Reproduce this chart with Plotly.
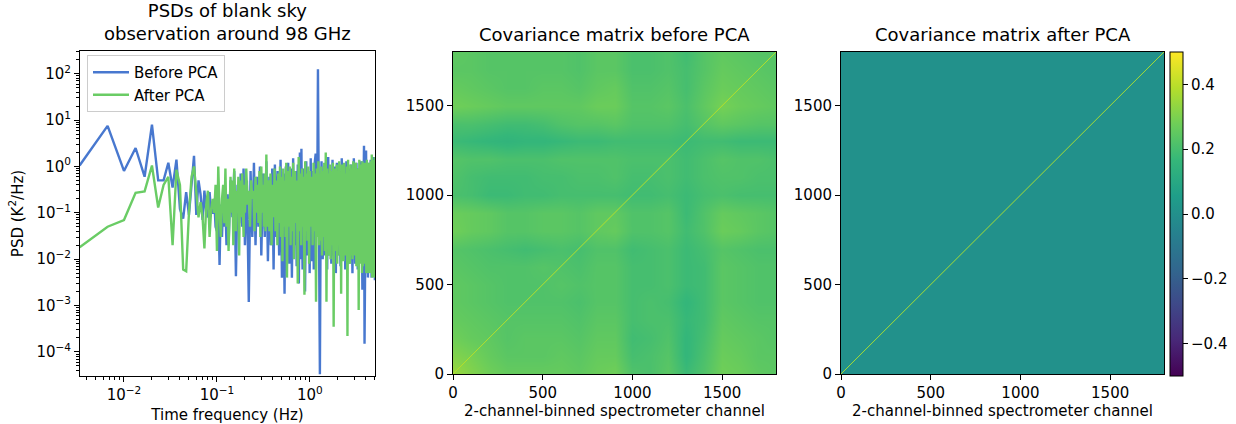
import plotly.graph_objects as go

W, H = 1236, 424

# ---- PSD data (FFT bin; 1 bin = 1/300 Hz) ----
blue_bins = [1,2,3,4,5,6,7,8,9,10,11,12,13,14,15,16,17,18,19,20,
 21,22,23,24,25,26,27,28,29,30,31,32,33,34,35,36,37,38,39,40,
 42,44,46,48,50,52,54,56,58,60,63,66,69,72,75,78,81,84,87,90,
 94,98,102,106,110,114,118,122,126,130,135,140,145,150,155,160,165,170,175,180,
 186,192,198,204,210,216,222,228,234,240,243,250,258,266,274,282,290,298,306,314,
 322,330,338,346,354,360,366,372,378,384,390,400,412,424,436,448,460,472,484,496,
 510,525,540,555,570,585,600,620,640,660,680,700,720,740,760,780,800,830,860,890,
 920,950,980,1010,1040,1070,1100,1130,1145,1160,1200,1205,1230,1260,1262,1290,1320,1350,1380,1410,1440,1470,1500]
blue_psd = [1.05,7.5,0.8,2.5,0.6,8,0.5,0.5,1.2,0.35,1.4,0.12,0.075,0.28,0.09,0.5,1.7,0.09,0.5,0.25,
 0.07,0.3,0.1,0.08,0.28,0.1,0.1,0.2,0.05,0.04,0.15,0.0075,0.15,0.03,0.2,0.05,0.15,0.02,0.25,0.02,
 0.5,0.08,0.8,0.0043,0.4,0.06,0.7,0.05,0.9,0.02,0.5,0.0012,0.8,0.03,1.2,0.02,0.6,0.05,1.0,0.012,
 0.7,0.03,1.3,0.009,0.6,0.02,0.9,0.006,1.1,0.03,0.8,0.012,1.4,0.004,0.7,0.0018,1.0,0.02,1.2,0.008,
 0.9,0.004,1.5,0.02,0.8,0.007,1.1,0.003,2.0,0.01,2.4,0.006,0.9,0.002,1.3,0.012,0.7,0.005,1.5,0.009,
 0.8,0.006,1.2,1.9,0.9,0.3,125,0.6,0.004,3.3e-5,0.02,1.3,0.01,0.8,0.012,1.1,0.006,1.6,0.012,0.7,
 0.008,1.4,0.012,1.0,0.005,1.2,0.012,0.8,0.007,1.5,0.01,1.0,0.006,1.3,0.009,0.9,0.008,1.1,0.005,1.5,
 0.008,1.2,0.006,0.9,0.009,1.3,0.0022,1.0,2.8,1.5e-4,1.0,2.2,0.005,1.2,0.004,0.9,0.006,1.4,0.004,1.1,0.005,1.6,0.0035]

green_bins = [1,2,3,4,5,6,7,8,9,10,11,12,13,14,15,16,17,18,19,20,
 21,22,23,24,25,26,27,28,29,30,31,32,33,34,35,36,37,38,39,40,
 41,42,43,44,45,46,47,48,49,50,51,52,53,54,55,56,57,58,59,60,
 62,64,66,68,70,72,74,76,78,80,82,84,86,88,90,92,94,96,98,100,
 102,104,107,110,113,116,119,122,125,128,131,134,137,140,143,146,149,152,155,158,
 161,164,167,170,174,178,182,186,190,194,198,202,207,212,217,222,227,232,237,242,
 247,252,257,262,267,272,277,282,288,294,300,307,314,321,328,335,342,349,356,363,
 370,377,384,391,398,405,412,420,428,436,444,452,460,468,476,484,492,500,510,520,
 530,540,550,558,566,574,582,590,600,610,620,630,640,650,660,670,680,690,700,712,
 724,736,748,760,772,784,796,808,822,836,850,864,878,892,906,920,934,948,962,976,
 990,1004,1020,1036,1052,1068,1084,1090,1100,1116,1132,1148,1164,1180,1196,1212,1228,1244,1260,1276,
 1292,1308,1324,1340,1356,1372,1388,1404,1420,1436,1452,1468,1484,1500]
green_psd = [0.018,0.05,0.07,0.27,0.29,1.05,0.13,0.4,0.6,0.02,0.85,0.4,0.006,0.0055,0.1,0.6,1.0,0.3,0.08,0.17,
 0.08,0.017,0.15,0.3,0.03,0.12,0.2,0.1,0.4,0.015,1.0,0.1,0.03,0.2,0.4,0.06,0.9,0.05,0.2,0.015,
 0.3,0.6,0.1,0.5,0.02,0.9,0.2,0.04,0.3,0.1,0.6,0.012,0.3,0.5,0.08,0.7,0.15,0.03,0.4,0.1,
 0.9,0.15,0.3,0.05,0.5,0.2,0.3,0.04,0.6,0.1,0.4,0.06,0.8,0.03,1.0,0.1,0.4,0.05,0.7,0.04,
 1.8,0.05,0.5,0.04,0.7,0.02,0.4,0.08,0.9,0.04,0.5,0.02,0.7,0.06,1.0,0.03,0.6,0.009,0.9,0.05,
 0.5,0.03,1.2,0.004,0.8,0.05,1.0,0.02,0.6,0.04,1.2,0.01,0.8,0.06,0.5,0.003,1.6,0.04,0.7,0.02,
 0.9,0.05,0.6,0.0017,1.3,0.04,0.7,0.025,1.0,0.008,0.8,0.05,0.6,0.02,1.2,0.04,0.7,0.0012,0.9,0.03,
 1.3,0.02,0.7,0.025,1.0,0.012,0.8,0.03,1.2,0.015,2.0,0.0012,0.9,0.025,0.7,0.012,1.1,0.01,0.8,0.02,
 1.2,0.00035,0.9,0.015,0.6,0.025,1.1,0.008,0.8,0.02,1.3,0.012,0.7,0.0018,1.1,0.015,0.8,0.009,1.2,0.012,
 0.7,0.02,1.0,0.00022,1.4,0.01,0.8,0.008,1.1,0.012,0.9,0.01,1.3,0.012,0.7,0.015,1.2,0.007,0.9,0.01,
 0.8,0.0008,1.4,0.008,1.1,0.01,0.9,0.005,1.3,0.007,0.8,0.009,1.2,0.008,1.0,0.005,1.4,0.008,0.9,0.005,
 1.2,0.008,0.8,0.005,1.3,0.007,1.8,0.004,0.9,0.006,1.4,0.004,1.1,1.6]

# ---- Covariance matrix before PCA, read on a 100-channel grid ----
channels = [0,100,200,300,400,500,600,700,800,900,1000,1100,1200,1300,1400,1500,1600,1700,1800]
cov_before = [
 [.35,.31,.28,.26,.26,.26,.26,.25,.27,.28,.22,.21,.24,.18,.22,.28,.27,.25,.24],
 [.31,.29,.26,.24,.24,.24,.25,.24,.26,.26,.20,.21,.23,.16,.21,.27,.26,.24,.24],
 [.28,.26,.25,.23,.24,.24,.24,.23,.25,.25,.19,.20,.22,.16,.20,.26,.25,.24,.23],
 [.26,.25,.24,.23,.23,.23,.23,.22,.24,.24,.20,.21,.21,.17,.19,.25,.24,.23,.23],
 [.25,.24,.23,.22,.22,.22,.22,.21,.23,.23,.20,.21,.20,.16,.19,.24,.23,.22,.22],
 [.25,.24,.23,.22,.22,.22,.23,.22,.23,.23,.20,.20,.21,.18,.19,.24,.23,.22,.22],
 [.24,.23,.22,.22,.22,.23,.22,.21,.23,.23,.20,.20,.21,.18,.19,.24,.23,.22,.22],
 [.23,.22,.21,.20,.19,.20,.21,.20,.22,.22,.19,.20,.21,.18,.20,.23,.22,.21,.21],
 [.28,.26,.25,.23,.23,.24,.24,.23,.25,.26,.22,.22,.23,.19,.22,.27,.26,.24,.23],
 [.27,.26,.25,.23,.23,.24,.24,.23,.25,.25,.22,.22,.23,.18,.22,.26,.25,.24,.23],
 [.21,.20,.18,.18,.19,.19,.20,.20,.20,.20,.19,.19,.20,.18,.20,.21,.20,.20,.20],
 [.22,.20,.19,.19,.19,.20,.20,.21,.21,.22,.20,.20,.21,.19,.21,.22,.22,.21,.21],
 [.23,.22,.22,.21,.21,.21,.22,.22,.22,.22,.21,.21,.21,.19,.21,.23,.22,.22,.21],
 [.18,.17,.16,.15,.16,.16,.17,.18,.18,.19,.19,.19,.19,.18,.19,.19,.18,.18,.18],
 [.21,.21,.20,.19,.19,.20,.22,.23,.23,.24,.22,.22,.22,.20,.23,.25,.24,.23,.23],
 [.28,.27,.26,.25,.25,.25,.25,.25,.27,.27,.23,.23,.24,.21,.25,.29,.27,.26,.25],
 [.26,.25,.24,.23,.23,.24,.24,.23,.25,.26,.22,.22,.23,.20,.24,.27,.26,.25,.24],
 [.24,.24,.23,.23,.23,.23,.23,.22,.24,.24,.21,.21,.22,.20,.23,.26,.25,.24,.23],
 [.25,.24,.23,.23,.23,.23,.23,.22,.24,.24,.21,.21,.22,.19,.23,.25,.24,.23,.23],
]
# Covariance after PCA: flat, close to zero away from the diagonal
after_channels = [0, 900, 1800]
cov_after = [[.003,.004,.003],[.004,.003,.004],[.003,.004,.003]]
diag_channels = [0, 1800]

decades = [-4, -3, -2, -1, 0, 1, 2]
dec_labels = ["10<sup>\u22124</sup>", "10<sup>\u22123</sup>", "10<sup>\u22122</sup>", "10<sup>\u22121</sup>",
              "10<sup>0</sup>", "10<sup>1</sup>", "10<sup>2</sup>"]
minor_factors = [2, 3, 4, 5, 6, 7, 8, 9]

BLUE, GREEN = "#4878CF", "#6ACC65"
FONT = "DejaVu Sans"
# plot-area box inside the page; everything is placed relative to it
ML, MR, MT, MB = 80, 72, 51, 48
IW, IH = W - ML - MR, H - MT - MB

def px(x): return (x - ML) / IW
def py(y): return (H - MB - y) / IH
def dx(a, b): return [px(a), px(b)]
def dy(top, bot): return [py(bot), py(top)]

fig = go.Figure()
fig.add_trace(go.Scatter(x=[k / 300 for k in blue_bins], y=blue_psd, name="Before PCA", mode="lines",
                         line=dict(color=BLUE, width=2.4), xaxis="x", yaxis="y"))
fig.add_trace(go.Scatter(x=[k / 300 for k in green_bins], y=green_psd, name="After PCA", mode="lines",
                         line=dict(color=GREEN, width=2.4), xaxis="x", yaxis="y"))
fig.add_trace(go.Heatmap(x=channels, y=channels, z=cov_before, zmin=-.5, zmax=.5, colorscale="Viridis",
                         zsmooth="best", showscale=False, xaxis="x2", yaxis="y2"))
fig.add_trace(go.Scatter(x=diag_channels, y=diag_channels, mode="lines", showlegend=False,
                         line=dict(color="#b5de2b", width=1), xaxis="x2", yaxis="y2"))
fig.add_trace(go.Heatmap(x=after_channels, y=after_channels, z=cov_after, zmin=-.5, zmax=.5, colorscale="Viridis",
                         zsmooth="best", xaxis="x3", yaxis="y3",
                         colorbar=dict(x=px(1170), xanchor="left", y=py(376), yanchor="bottom",
                                       len=324 / IH, lenmode="fraction", thickness=13, thicknessmode="pixels",
                                       xpad=0, ypad=0, outlinecolor="black", outlinewidth=1,
                                       tickvals=[-.4, -.2, 0, .2, .4],
                                       ticktext=["\u22120.4", "\u22120.2", "0.0", "0.2", "0.4"],
                                       ticks="outside", ticklen=5, tickwidth=1, tickcolor="black",
                                       tickfont=dict(family=FONT, size=15, color="black"))))
fig.add_trace(go.Scatter(x=diag_channels, y=diag_channels, mode="lines", showlegend=False,
                         line=dict(color="#a5db36", width=1), xaxis="x3", yaxis="y3"))

common = dict(showline=True, mirror=True, linecolor="black", linewidth=1, ticks="outside", ticklen=5, tickwidth=1,
              tickcolor="black", showgrid=False, zeroline=False, tickfont=dict(family=FONT, size=15, color="black"))
lin_ticks = dict(range=[0, 1800], tickvals=[0, 500, 1000, 1500], ticktext=["0", "500", "1000", "1500"])
xlabel = dict(text="2-channel-binned spectrometer channel", font=dict(family=FONT, size=15, color="black"), standoff=4)
minor = dict(ticks="outside", ticklen=3, tickwidth=0.8, tickcolor="black", showgrid=False,
             tickmode="array", tickvals=[f * 10.0 ** d for d in [-5] + decades for f in minor_factors])
major_x = [10.0 ** d for d in decades]

fig.update_layout(
    width=W, height=H, margin=dict(l=ML, r=MR, t=MT, b=MB, autoexpand=False), paper_bgcolor="white", plot_bgcolor="white",
    font=dict(family=FONT, color="black"), showlegend=True,
    legend=dict(x=px(87), xanchor="left", y=py(55), yanchor="top", bgcolor="rgba(255,255,255,0.8)",
                bordercolor="#cccccc", borderwidth=1, font=dict(family=FONT, size=15, color="black"), itemwidth=36,
                tracegroupgap=2),
    xaxis=dict(domain=dx(80, 375), anchor="y", type="log", range=[-2.473, 0.7], tickvals=major_x, ticktext=dec_labels, minor=minor,
               title=dict(text="Time frequency (Hz)", font=dict(family=FONT, size=15, color="black"), standoff=6), **common),
    yaxis=dict(domain=dy(51, 376), anchor="x", type="log", range=[-4.52, 2.49], tickvals=major_x, ticktext=dec_labels, minor=minor,
               title=dict(text="PSD (K<sup>2</sup>/Hz)", font=dict(family=FONT, size=15, color="black"), standoff=9), **common),
    xaxis2=dict(domain=dx(453, 776), anchor="y2", title=xlabel, **lin_ticks, **common),
    yaxis2=dict(domain=dy(52, 374), anchor="x2", **lin_ticks, **common),
    xaxis3=dict(domain=dx(841, 1164), anchor="y3", title=xlabel, **lin_ticks, **common),
    yaxis3=dict(domain=dy(52, 374), anchor="x3", **lin_ticks, **common),
    annotations=[
        dict(text="PSDs of blank sky<br>observation around 98 GHz", x=px(227.5), y=py(46), xref="paper", yref="paper",
             xanchor="center", yanchor="bottom", showarrow=False, font=dict(family=FONT, size=18, color="black")),
        dict(text="Covariance matrix before PCA", x=px(614.5), y=py(47), xref="paper", yref="paper",
             xanchor="center", yanchor="bottom", showarrow=False, font=dict(family=FONT, size=18, color="black")),
        dict(text="Covariance matrix after PCA", x=px(1002.5), y=py(47), xref="paper", yref="paper",
             xanchor="center", yanchor="bottom", showarrow=False, font=dict(family=FONT, size=18, color="black")),
    ],
)
fig.write_html("out.html", config=dict(displayModeBar=False), post_script="document.body.style.margin='0';")
